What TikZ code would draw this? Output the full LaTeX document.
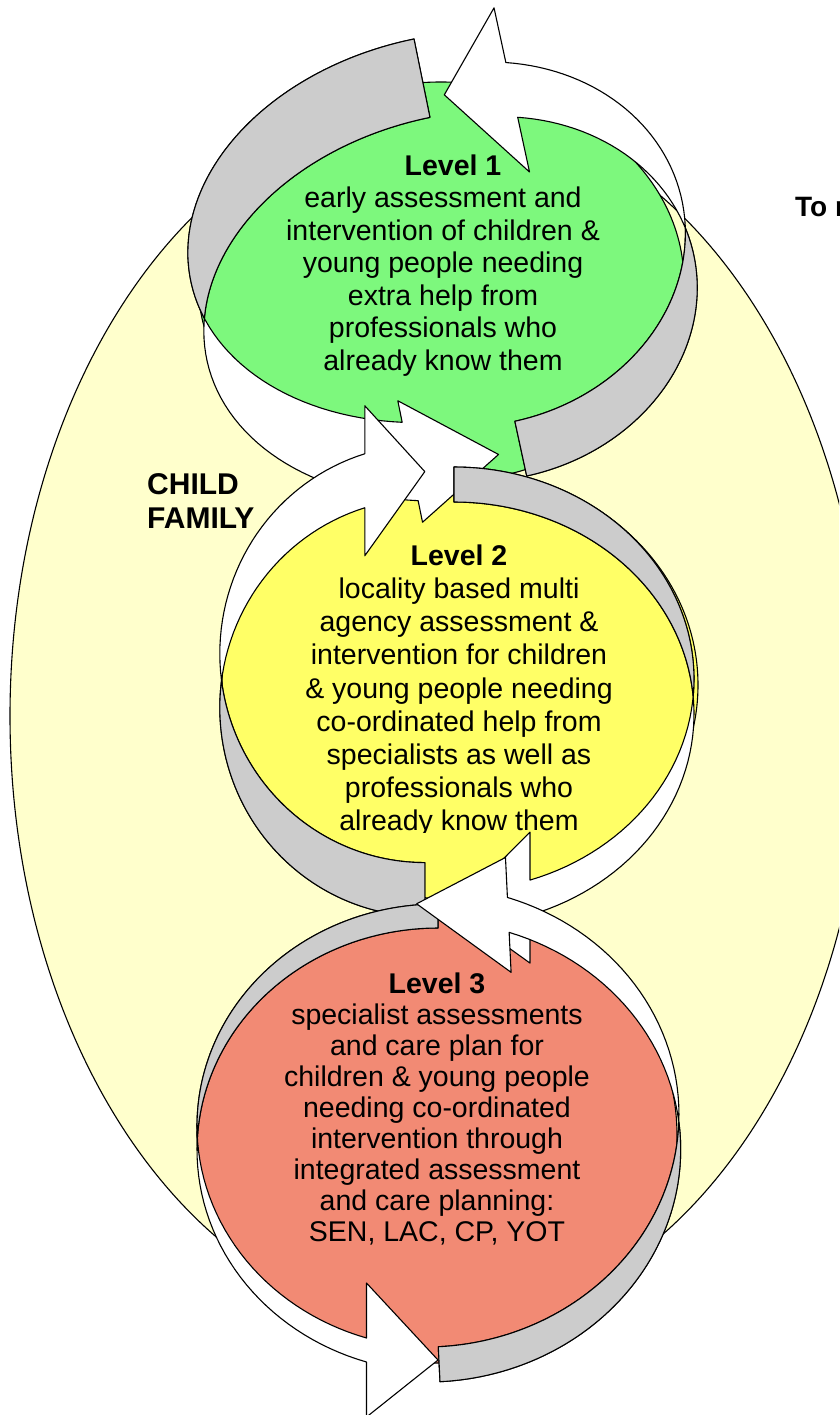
\documentclass[tikz,border=0pt]{standalone}
\usepackage{fontspec}
\usepackage{graphicx}
\setmainfont{Liberation Sans}
\definecolor{paleyel}{RGB}{255,255,204}
\definecolor{lvgreen}{RGB}{125,248,125}
\definecolor{lvyellow}{RGB}{255,255,102}
\definecolor{lvred}{RGB}{242,138,116}
\definecolor{bandgrey}{RGB}{204,204,204}
\tikzset{
  outl/.style={draw=black, line width=1.1pt, line join=round},
  lvtext/.style={align=center, inner sep=0pt, anchor=north, font=\fontsize{28.5}{32.5}\selectfont},
  sidelabel/.style={anchor=base west, inner sep=0pt, font=\bfseries\fontsize{30}{34}\selectfont},
}
% curved arrow: #1 Tx, #2 Ty, #3 phi, #4 mirror, #5 A, #6 B, #7 th, #8 ah, #9 dh
\newcommand{\curvarr}[9]{%
  \pgfmathsetmacro{\cTx}{#1}%
  \pgfmathsetmacro{\cTy}{#2}%
  \pgfmathsetmacro{\dX}{sin(#3)}%
  \pgfmathsetmacro{\dY}{cos(#3)}%
  \pgfmathsetmacro{\rX}{(#4)*cos(#3)}%
  \pgfmathsetmacro{\rY}{-1*(#4)*sin(#3)}%
  \pgfmathsetmacro{\cA}{#5}%
  \pgfmathsetmacro{\cB}{#6}%
  \pgfmathsetmacro{\cth}{#7}%
  \pgfmathsetmacro{\tb}{acos(-(#8)/(#5))}%
  \pgfmathsetmacro{\tcr}{180-asin((#7)/(2*(#6)))}%
  \pgfmathsetmacro{\tcs}{180+asin((#7)/(2*(#6)))}%
  \pgfmathsetmacro{\vNa}{(#6)+(#6)*sin(\tb)}%
  \pgfmathsetmacro{\vNb}{\vNa+(#7)}%
  \pgfmathsetmacro{\vCa}{\vNa-(#9)}%
  \pgfmathsetmacro{\vCb}{\vNb+(#9)}%
  \pgfmathsetmacro{\vTp}{2*(#6)+(#7)/2}%
  \pgfmathsetmacro{\uB}{-(#8)}%
  \coordinate (na) at ({\cTx+(\uB)*(\rX)+(\vNa)*(\dX)},{\cTy+(\uB)*(\rY)+(\vNa)*(\dY)});
  \coordinate (nb) at ({\cTx+(\uB)*(\rX)+(\vNb)*(\dX)},{\cTy+(\uB)*(\rY)+(\vNb)*(\dY)});
  \coordinate (ca) at ({\cTx+(\uB)*(\rX)+(\vCa)*(\dX)},{\cTy+(\uB)*(\rY)+(\vCa)*(\dY)});
  \coordinate (cb) at ({\cTx+(\uB)*(\rX)+(\vCb)*(\dX)},{\cTy+(\uB)*(\rY)+(\vCb)*(\dY)});
  \coordinate (tp) at ({\cTx+(\vTp)*(\dX)},{\cTy+(\vTp)*(\dY)});
  \filldraw[outl, fill=white]
    plot[domain=270:\tb, samples=70, variable=\vt]
      ({\cTx+\cA*cos(\vt)*(\rX)+(\cth+\cB+\cB*sin(\vt))*(\dX)},{\cTy+\cA*cos(\vt)*(\rY)+(\cth+\cB+\cB*sin(\vt))*(\dY)})
    -- (nb) -- (cb) -- (tp) -- (ca) -- (na) --
    plot[domain=\tb:270, samples=70, variable=\vt]
      ({\cTx+\cA*cos(\vt)*(\rX)+(\cB+\cB*sin(\vt))*(\dX)},{\cTy+\cA*cos(\vt)*(\rY)+(\cB+\cB*sin(\vt))*(\dY)})
    -- cycle;
  \filldraw[outl, fill=bandgrey]
    plot[domain=270:\tcr, samples=60, variable=\vt]
      ({\cTx+\cA*cos(\vt)*(\rX)+(\cB+\cB*sin(\vt))*(\dX)},{\cTy+\cA*cos(\vt)*(\rY)+(\cB+\cB*sin(\vt))*(\dY)})
    -- plot[domain=\tcs:270, samples=60, variable=\vt]
      ({\cTx+\cA*cos(\vt)*(\rX)+(\cth+\cB+\cB*sin(\vt))*(\dX)},{\cTy+\cA*cos(\vt)*(\rY)+(\cth+\cB+\cB*sin(\vt))*(\dY)})
    -- cycle;
}
\begin{document}
\begin{tikzpicture}[x=1pt, y=-1pt]
\useasboundingbox (0,0) rectangle (839,1415);
\clip (0,0) rectangle (839,1415);
\fill[white] (0,0) rectangle (839,1415);
% outer context ellipse
\filldraw[outl, fill=paleyel] (438,716) ellipse [x radius=428pt, y radius=609pt];
\node[sidelabel] (child) at (147,494.5) {CHILD};
\node[sidelabel] (family) at (147,528.5) {FAMILY};
\node[anchor=base west, inner sep=0pt, font=\bfseries\fontsize{28}{32}\selectfont] (tor) at (795,216.7) {To r};
% level ellipses
\filldraw[outl, fill=lvgreen] (441,282) ellipse [x radius=243pt, y radius=200pt];
\filldraw[outl, fill=lvyellow] (460,685) ellipse [x radius=238pt, y radius=215pt];
\filldraw[outl, fill=lvred] (437,1135) ellipse [x radius=240pt, y radius=228pt];
% curved arrows
\curvarr{414}{39}{11.5}{1}{267}{192}{80}{88}{22}
\curvarr{526.7}{476}{192.2}{1}{210}{181}{56}{67}{56}
\curvarr{454}{467}{0}{-1}{240}{212}{35}{76}{48}
\curvarr{424.8}{916.6}{180}{-1}{205}{209}{54}{60}{48}
\curvarr{438}{904}{0}{1}{241}{222}{24}{71.5}{55}
\curvarr{440}{1381.7}{182.8}{1}{252}{230.5}{35}{91}{40}
% texts
\node[lvtext] (lvone) at (443,154.5) {\hspace*{20pt}\textbf{Level 1}\\early assessment and\\intervention of children \&\\young people needing\\extra help from\\professionals who\\already know them};
\begin{scope}
\clip (0,0) rectangle (839,832);
\node[lvtext, font=\fontsize{28.5}{33.2}\selectfont] (lvtwo) at (459,544.5) {\textbf{Level 2}\\locality based multi\\agency assessment \&\\intervention for children\\\& young people needing\\co-ordinated help from\\specialists as well as\\professionals who\\already know them};
\end{scope}
\node[lvtext, font=\fontsize{28.5}{31}\selectfont] (lvthree) at (437,973) {\textbf{Level 3}\\specialist assessments\\and care plan for\\children \& young people\\needing co-ordinated\\intervention through\\integrated assessment\\and care planning:\\SEN, LAC, CP, YOT};
\end{tikzpicture}
\end{document}
